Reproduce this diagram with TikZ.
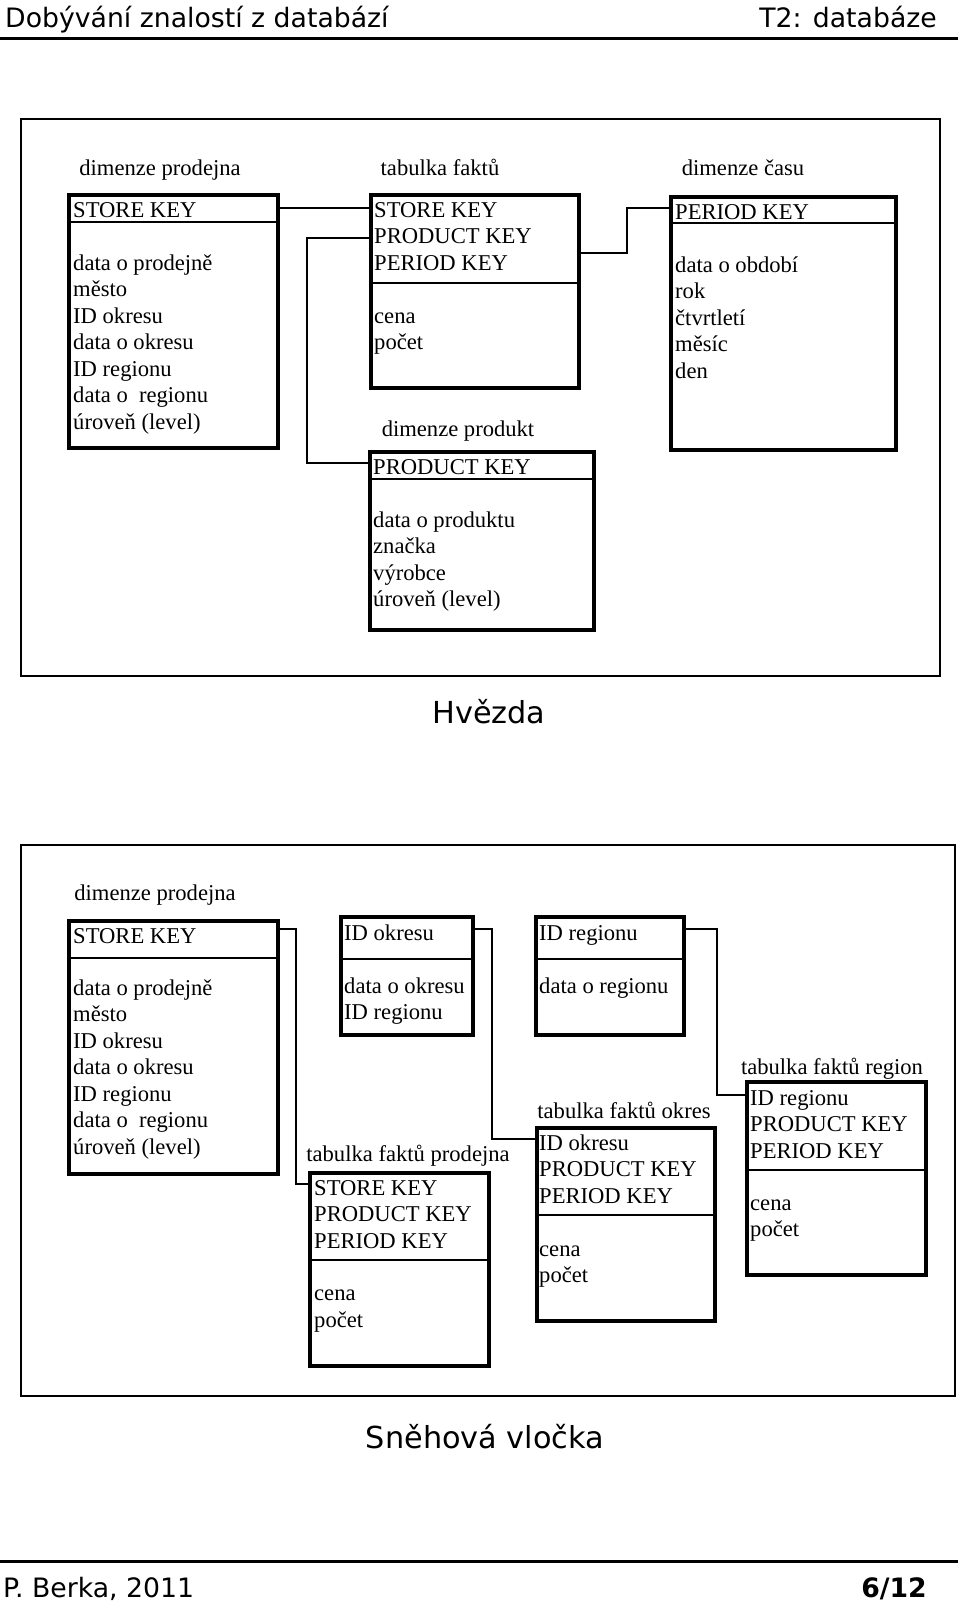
\documentclass[tikz,border=0pt]{standalone}
\usepackage{fontspec}
\setmainfont{Liberation Serif}
\newfontfamily\slidefont{DejaVu Sans}
\newcommand\tabfont{\fontsize{22.6}{26.5}\selectfont}
\newcommand\headfont{\slidefont\fontsize{26.7}{30}\selectfont}
\newcommand\titlefont{\slidefont\fontsize{30.3}{34}\selectfont}

\tikzset{
  tbl/.style={draw, line width=4pt, inner sep=0pt, anchor=north west},
  divider/.style={line width=2pt},
  link/.style={line width=2pt},
  row/.style={anchor=base west, inner sep=0pt, xshift=2pt, font=\tabfont},
  tblname/.style={anchor=base, inner sep=0pt, font=\tabfont},
}

\begin{document}
\begin{tikzpicture}[x=1pt, y=-1pt]
 \useasboundingbox (0,0) rectangle (960,1607);
 % header
 \node[anchor=base west, inner sep=0pt, font=\headfont] (course) at (5,27) {Dobývání znalostí z databází};
 \node[anchor=base east, inner sep=0pt, font=\headfont] (topic) at (937,27) {T2: databáze};
 \draw[line width=3pt] (0,38.5) -- (958,38.5);

 % star schema
 \draw[line width=2pt] (21,119) rectangle (940,676);
 \node[tblname] (lstore) at (160,175) {dimenze prodejna};
 \node[tblname] (lfact) at (440,175) {tabulka faktů};
 \node[tblname] (lperiod) at (743,175) {dimenze času};
 \node[tblname] (lproduct) at (458,436) {dimenze produkt};

 \node[tbl, minimum width=209pt, minimum height=253pt] (store) at (67,193) {};
 \draw[divider] (store.west |- 0,222) -- (store.east |- 0,222);
 \node[row] (skey) at (71,217) {STORE KEY};
 \foreach \t [count=\i from 0] in {data o prodejně, město, ID okresu, data o okresu, ID regionu, data o~ regionu, úroveň (level)}{
    \node[row] (s\i) at (71,270+26.5*\i) {\t};
 }

 \node[tbl, minimum width=208pt, minimum height=193pt] (fact) at (369,193) {};
 \draw[divider] (fact.west |- 0,283) -- (fact.east |- 0,283);
 \foreach \t [count=\i from 0] in {STORE KEY, PRODUCT KEY, PERIOD KEY}{
    \node[row] (fk\i) at (372,217+26.5*\i) {\t};
 }
 \node[row] (fcena) at (372,323) {cena};
 \node[row] (fpocet) at (372,349.5) {počet};

 \node[tbl, minimum width=225pt, minimum height=253pt] (period) at (669,195) {};
 \draw[divider] (period.west |- 0,223) -- (period.east |- 0,223);
 \node[row] (pkey) at (673,219) {PERIOD KEY};
 \foreach \t [count=\i from 0] in {data o období, rok, čtvrtletí, měsíc, den}{
    \node[row] (p\i) at (673,272+26.5*\i) {\t};
 }

 \node[tbl, minimum width=224pt, minimum height=178pt] (product) at (368,450) {};
 \draw[divider] (product.west |- 0,479) -- (product.east |- 0,479);
 \node[row] (dkey) at (371,474) {PRODUCT KEY};
 \foreach \t [count=\i from 0] in {data o produktu, značka, výrobce, úroveň (level)}{
    \node[row] (d\i) at (371,527+26.5*\i) {\t};
 }

 \draw[link] (store.east |- 0,208) -- (fact.west |- 0,208);
 \draw[link] (fact.west |- 0,238) -- ++(-62,0) |- (product.west |- 0,463);
 \draw[link] (fact.east |- 0,253) -- ++(46,0) |- (period.west |- 0,208);

 \node[anchor=base, inner sep=0pt, font=\titlefont] (star) at (489,723) {Hvězda};

 % snowflake schema
 \draw[line width=2pt] (21,845) rectangle (955,1396);
 \node[tblname] (lstore2) at (155,900) {dimenze prodejna};
 \node[tblname] (lfprod) at (408,1161) {tabulka faktů prodejna};
 \node[tblname] (lfokres) at (624,1118) {tabulka faktů okres};
 \node[tblname] (lfregion) at (832,1074) {tabulka faktů region};

 \node[tbl, minimum width=209pt, minimum height=253pt] (store2) at (67,919) {};
 \draw[divider] (store2.west |- 0,958) -- (store2.east |- 0,958);
 \node[row] (tkey) at (71,943) {STORE KEY};
 \foreach \t [count=\i from 0] in {data o prodejně, město, ID okresu, data o okresu, ID regionu, data o~ regionu, úroveň (level)}{
    \node[row] (t\i) at (71,995+26.5*\i) {\t};
 }

 \node[tbl, minimum width=132pt, minimum height=118pt] (okres) at (339,915) {};
 \draw[divider] (okres.west |- 0,959) -- (okres.east |- 0,959);
 \node[row] (okey) at (342,940) {ID okresu};
 \node[row] (o0) at (342,993) {data o okresu};
 \node[row] (o1) at (342,1019.5) {ID regionu};

 \node[tbl, minimum width=148pt, minimum height=118pt] (region) at (534,915) {};
 \draw[divider] (region.west |- 0,959) -- (region.east |- 0,959);
 \node[row] (rkey) at (537,940) {ID regionu};
 \node[row] (r0) at (537,993) {data o regionu};

 \node[tbl, minimum width=179pt, minimum height=193pt] (fprod) at (308,1171) {};
 \draw[divider] (fprod.west |- 0,1260) -- (fprod.east |- 0,1260);
 \foreach \t [count=\i from 0] in {STORE KEY, PRODUCT KEY, PERIOD KEY}{
    \node[row] (fp\i) at (312,1195+26.5*\i) {\t};
 }
 \node[row] (fpcena) at (312,1300) {cena};
 \node[row] (fppocet) at (312,1327) {počet};

 \node[tbl, minimum width=178pt, minimum height=193pt] (fokres) at (535,1126) {};
 \draw[divider] (fokres.west |- 0,1215) -- (fokres.east |- 0,1215);
 \foreach \t [count=\i from 0] in {ID okresu, PRODUCT KEY, PERIOD KEY}{
    \node[row] (fo\i) at (537,1150+26.5*\i) {\t};
 }
 \node[row] (focena) at (537,1256) {cena};
 \node[row] (fopocet) at (537,1282.5) {počet};

 \node[tbl, minimum width=179pt, minimum height=193pt] (fregion) at (745,1080) {};
 \draw[divider] (fregion.west |- 0,1170) -- (fregion.east |- 0,1170);
 \foreach \t [count=\i from 0] in {ID regionu, PRODUCT KEY, PERIOD KEY}{
    \node[row] (fr\i) at (748,1105+26.5*\i) {\t};
 }
 \node[row] (frcena) at (748,1210) {cena};
 \node[row] (frpocet) at (748,1236.5) {počet};

 \draw[link] (store2.east |- 0,929) -- ++(16,0) |- (fprod.west |- 0,1184);
 \draw[link] (okres.east |- 0,929) -- ++(17,0) |- (fokres.west |- 0,1139);
 \draw[link] (region.east |- 0,929) -- ++(31,0) |- (fregion.west |- 0,1095);

 \node[anchor=base, inner sep=0pt, font=\titlefont] (snow) at (485,1448) {Sněhová vločka};

 % footer
 \draw[line width=3pt] (0,1561) -- (958,1561);
 \node[anchor=base west, inner sep=0pt, font=\headfont] (author) at (3,1597) {P. Berka, 2011};
 \node[anchor=base east, inner sep=0pt, font=\headfont\bfseries] (page) at (927,1597) {6/12};
\end{tikzpicture}
\end{document}
